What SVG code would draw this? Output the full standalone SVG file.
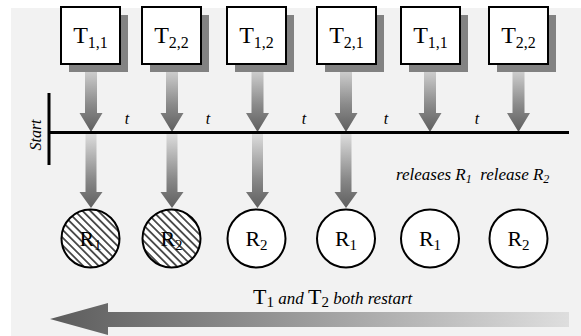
<svg xmlns="http://www.w3.org/2000/svg" width="581" height="336" viewBox="0 0 581 336" font-family="Liberation Serif, DejaVu Serif, serif">
<style>
.box{fill:#fff;stroke:#000;stroke-width:2}
.shadow{fill:#828282}
.res{stroke:#000;stroke-width:2}
.tt{font-size:24px}
.sub{font-size:16px}
.rt{font-size:22px}
.rsub{font-size:15px}
.it{font-style:italic;font-size:16px}
.lab{font-style:italic;font-size:17px}
.line{stroke:#000;stroke-width:3}
</style>
<defs>
<linearGradient id="gv" x1="0" y1="0" x2="0" y2="1">
<stop offset="0" stop-color="#dcdcdc"/>
<stop offset="0.6" stop-color="#8a8a8a"/>
<stop offset="1" stop-color="#5e5e5e"/>
</linearGradient>
<linearGradient id="gh" x1="0" y1="0" x2="1" y2="0">
<stop offset="0" stop-color="#5c5c5c"/>
<stop offset="1" stop-color="#dedede"/>
</linearGradient>
<pattern id="hatch" patternUnits="userSpaceOnUse" width="5.5" height="5.5" patternTransform="rotate(-45)">
<rect width="5.5" height="5.5" fill="#fff"/>
<line x1="2.75" y1="0" x2="2.75" y2="5.5" stroke="#000" stroke-width="1.3"/>
</pattern>
<path id="upArrow" d="M-6,0 H6 V49 H11.5 L0,68 L-11.5,49 H-6 Z"/>
<path id="dnArrow" d="M-5.5,0 H5.5 V58 H11.5 L0,74 L-11.5,58 H-5.5 Z"/>
</defs>
<rect x="11" y="8" width="570" height="328" fill="#f2f2f2"/>
<g id="connectors">
<use href="#upArrow" x="91" y="64" fill="url(#gv)"/>
<use href="#upArrow" x="172" y="64" fill="url(#gv)"/>
<use href="#upArrow" x="257.5" y="64" fill="url(#gv)"/>
<use href="#upArrow" x="346" y="64" fill="url(#gv)"/>
<use href="#upArrow" x="430" y="64" fill="url(#gv)"/>
<use href="#upArrow" x="518.5" y="64" fill="url(#gv)"/>
<use href="#dnArrow" x="91" y="134" fill="url(#gv)"/>
<use href="#dnArrow" x="172" y="134" fill="url(#gv)"/>
<use href="#dnArrow" x="257.5" y="134" fill="url(#gv)"/>
<use href="#dnArrow" x="346" y="134" fill="url(#gv)"/>
<path d="M50,319 L108,303 V312 H569 V327 H108 V335 Z" fill="url(#gh)"/>
</g>
<g id="timeline">
<line class="line" x1="49" y1="93" x2="49" y2="165"/>
<line class="line" x1="48" y1="132.5" x2="569" y2="132.5"/>
<text class="it" transform="translate(41,135) rotate(-90)" text-anchor="middle">Start</text>
<text class="it" x="127" y="124" text-anchor="middle">t</text>
<text class="it" x="208" y="124" text-anchor="middle">t</text>
<text class="it" x="304" y="124" text-anchor="middle">t</text>
<text class="it" x="386" y="124" text-anchor="middle">t</text>
<text class="it" x="477" y="124" text-anchor="middle">t</text>
</g>
<g id="task1">
<rect class="shadow" x="69" y="15" width="59" height="57"/>
<rect class="box" x="61" y="7" width="59" height="57"/>
<text class="tt" x="90.5" y="43" text-anchor="middle">T<tspan class="sub" dy="5">1,1</tspan></text>
</g>
<g id="task2">
<rect class="shadow" x="150" y="15" width="59" height="57"/>
<rect class="box" x="142" y="7" width="59" height="57"/>
<text class="tt" x="171.5" y="43" text-anchor="middle">T<tspan class="sub" dy="5">2,2</tspan></text>
</g>
<g id="task3">
<rect class="shadow" x="235" y="15" width="59" height="57"/>
<rect class="box" x="227" y="7" width="59" height="57"/>
<text class="tt" x="256.5" y="43" text-anchor="middle">T<tspan class="sub" dy="5">1,2</tspan></text>
</g>
<g id="task4">
<rect class="shadow" x="325" y="15" width="59" height="57"/>
<rect class="box" x="317" y="7" width="59" height="57"/>
<text class="tt" x="346.5" y="43" text-anchor="middle">T<tspan class="sub" dy="5">2,1</tspan></text>
</g>
<g id="task5">
<rect class="shadow" x="409" y="15" width="59" height="57"/>
<rect class="box" x="401" y="7" width="59" height="57"/>
<text class="tt" x="430.5" y="43" text-anchor="middle">T<tspan class="sub" dy="5">1,1</tspan></text>
</g>
<g id="task6">
<rect class="shadow" x="497" y="15" width="59" height="57"/>
<rect class="box" x="489" y="7" width="59" height="57"/>
<text class="tt" x="518.5" y="43" text-anchor="middle">T<tspan class="sub" dy="5">2,2</tspan></text>
</g>
<g id="res1">
<circle class="res" cx="90.5" cy="238.5" r="29" fill="url(#hatch)"/>
<text class="rt" x="90.5" y="246" text-anchor="middle">R<tspan class="rsub" dy="4">1</tspan></text>
</g>
<g id="res2">
<circle class="res" cx="171.5" cy="238.5" r="29" fill="url(#hatch)"/>
<text class="rt" x="171.5" y="246" text-anchor="middle">R<tspan class="rsub" dy="4">2</tspan></text>
</g>
<g id="res3">
<circle class="res" cx="256.5" cy="238.5" r="29" fill="#fff"/>
<text class="rt" x="256.5" y="246" text-anchor="middle">R<tspan class="rsub" dy="4">2</tspan></text>
</g>
<g id="res4">
<circle class="res" cx="346" cy="238.5" r="29" fill="#fff"/>
<text class="rt" x="346" y="246" text-anchor="middle">R<tspan class="rsub" dy="4">1</tspan></text>
</g>
<g id="res5">
<circle class="res" cx="430" cy="238.5" r="29" fill="#fff"/>
<text class="rt" x="430" y="246" text-anchor="middle">R<tspan class="rsub" dy="4">1</tspan></text>
</g>
<g id="res6">
<circle class="res" cx="518.5" cy="238.5" r="29" fill="#fff"/>
<text class="rt" x="518.5" y="246" text-anchor="middle">R<tspan class="rsub" dy="4">2</tspan></text>
</g>
<g id="labels">
<text class="lab" x="396" y="180">releases R<tspan font-size="12" dy="3">1</tspan><tspan dy="-3" xml:space="preserve">  release R</tspan><tspan font-size="12" dy="3">2</tspan></text>
<text class="lab" x="253" y="304"><tspan font-style="normal" font-size="22">T</tspan><tspan font-style="normal" font-size="15" dy="3">1</tspan><tspan dy="-3"> and </tspan><tspan font-style="normal" font-size="22">T</tspan><tspan font-style="normal" font-size="15" dy="3">2</tspan><tspan dy="-3"> both restart</tspan></text>
</g>
</svg>
